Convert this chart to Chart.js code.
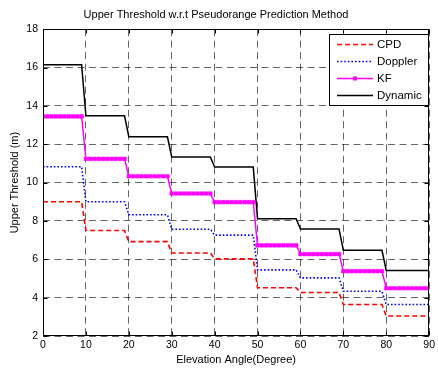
<!DOCTYPE html>
<html><head><meta charset="utf-8">
<script src="https://cdn.jsdelivr.net/npm/chart.js@4.4.1/dist/chart.umd.min.js"></script>
<style>html,body{margin:0;padding:0;background:#fff;}canvas{display:block;}</style>
</head><body>
<canvas id="c" width="438" height="370"></canvas>
<script>
const chartTitle = 'Upper Threshold w.r.t Pseudorange Prediction Method';
const xTitle = 'Elevation Angle(Degree)';
const yTitle = 'Upper Threshold (m)';
const seriesNames = ['CPD', 'Doppler', 'KF', 'Dynamic'];
const xTicks = [0, 10, 20, 30, 40, 50, 60, 70, 80, 90];
const yTicks = [2, 4, 6, 8, 10, 12, 14, 16, 18];

const elevationDeg = Array.from({length: 91}, (_, i) => i);

const cpd = [
  9.00, 9.00, 9.00, 9.00, 9.00, 9.00, 9.00, 9.00, 9.00, 9.00,
  7.50, 7.50, 7.50, 7.50, 7.50, 7.50, 7.50, 7.50, 7.50, 7.50,
  6.92, 6.92, 6.92, 6.92, 6.92, 6.92, 6.92, 6.92, 6.92, 6.92,
  6.33, 6.33, 6.33, 6.33, 6.33, 6.33, 6.33, 6.33, 6.33, 6.33,
  6.02, 6.02, 6.02, 6.02, 6.02, 6.02, 6.02, 6.02, 6.02, 6.02,
  4.52, 4.52, 4.52, 4.52, 4.52, 4.52, 4.52, 4.52, 4.52, 4.52,
  4.27, 4.27, 4.27, 4.27, 4.27, 4.27, 4.27, 4.27, 4.27, 4.27,
  3.64, 3.64, 3.64, 3.64, 3.64, 3.64, 3.64, 3.64, 3.64, 3.64,
  3.04, 3.04, 3.04, 3.04, 3.04, 3.04, 3.04, 3.04, 3.04, 3.04, 3.04
];
const doppler = [
  10.83, 10.83, 10.83, 10.83, 10.83, 10.83, 10.83, 10.83, 10.83, 10.83,
  9.00, 9.00, 9.00, 9.00, 9.00, 9.00, 9.00, 9.00, 9.00, 9.00,
  8.32, 8.32, 8.32, 8.32, 8.32, 8.32, 8.32, 8.32, 8.32, 8.32,
  7.57, 7.57, 7.57, 7.57, 7.57, 7.57, 7.57, 7.57, 7.57, 7.57,
  7.26, 7.26, 7.26, 7.26, 7.26, 7.26, 7.26, 7.26, 7.26, 7.26,
  5.45, 5.45, 5.45, 5.45, 5.45, 5.45, 5.45, 5.45, 5.45, 5.45,
  5.03, 5.03, 5.03, 5.03, 5.03, 5.03, 5.03, 5.03, 5.03, 5.03,
  4.33, 4.33, 4.33, 4.33, 4.33, 4.33, 4.33, 4.33, 4.33, 4.33,
  3.64, 3.64, 3.64, 3.64, 3.64, 3.64, 3.64, 3.64, 3.64, 3.64, 3.64
];
const kf = [
  13.45, 13.45, 13.45, 13.45, 13.45, 13.45, 13.45, 13.45, 13.45, 13.45,
  11.24, 11.24, 11.24, 11.24, 11.24, 11.24, 11.24, 11.24, 11.24, 11.24,
  10.33, 10.33, 10.33, 10.33, 10.33, 10.33, 10.33, 10.33, 10.33, 10.33,
  9.43, 9.43, 9.43, 9.43, 9.43, 9.43, 9.43, 9.43, 9.43, 9.43,
  8.98, 8.98, 8.98, 8.98, 8.98, 8.98, 8.98, 8.98, 8.98, 8.98,
  6.73, 6.73, 6.73, 6.73, 6.73, 6.73, 6.73, 6.73, 6.73, 6.73,
  6.27, 6.27, 6.27, 6.27, 6.27, 6.27, 6.27, 6.27, 6.27, 6.27,
  5.38, 5.38, 5.38, 5.38, 5.38, 5.38, 5.38, 5.38, 5.38, 5.38,
  4.49, 4.49, 4.49, 4.49, 4.49, 4.49, 4.49, 4.49, 4.49, 4.49, 4.49
];
const dynamic = [
  16.15, 16.15, 16.15, 16.15, 16.15, 16.15, 16.15, 16.15, 16.15, 16.15,
  13.48, 13.48, 13.48, 13.48, 13.48, 13.48, 13.48, 13.48, 13.48, 13.48,
  12.39, 12.39, 12.39, 12.39, 12.39, 12.39, 12.39, 12.39, 12.39, 12.39,
  11.34, 11.34, 11.34, 11.34, 11.34, 11.34, 11.34, 11.34, 11.34, 11.34,
  10.81, 10.81, 10.81, 10.81, 10.81, 10.81, 10.81, 10.81, 10.81, 10.81,
  8.12, 8.12, 8.12, 8.12, 8.12, 8.12, 8.12, 8.12, 8.12, 8.12,
  7.58, 7.58, 7.58, 7.58, 7.58, 7.58, 7.58, 7.58, 7.58, 7.58,
  6.47, 6.47, 6.47, 6.47, 6.47, 6.47, 6.47, 6.47, 6.47, 6.47,
  5.42, 5.42, 5.42, 5.42, 5.42, 5.42, 5.42, 5.42, 5.42, 5.42, 5.42
];

const FONT = '"Liberation Sans", Arial, Helvetica, sans-serif';
const toPts = vals => elevationDeg.map((x, i) => ({x, y: vals[i]}));

const datasets = [
  {label: seriesNames[0], data: toPts(cpd), borderColor: '#ff0000', borderWidth: 1.6, borderDash: [5, 3], pointRadius: 0},
  {label: seriesNames[1], data: toPts(doppler), borderColor: '#0000ff', borderWidth: 1.6, borderDash: [1.6, 2], pointRadius: 0},
  {label: seriesNames[2], data: toPts(kf), borderColor: '#ff00ff', backgroundColor: '#ff00ff', borderWidth: 1.5, pointStyle: 'rect', pointRadius: 2.6, pointBorderWidth: 0.5},
  {label: seriesNames[3], data: toPts(dynamic), borderColor: '#000000', borderWidth: 1.5, pointRadius: 0}
];

const frame = {
  id: 'frame',
  afterDraw(chart) {
    const {ctx, chartArea: a, scales: {x, y}} = chart;
    ctx.save();
    ctx.setLineDash([]);
    ctx.strokeStyle = '#000';
    ctx.lineWidth = 1;
    const L = Math.round(a.left) + 0.5, R = Math.round(a.right) - 0.5;
    const T = Math.round(a.top) + 0.5, B = Math.round(a.bottom) - 0.5;
    ctx.beginPath();
    xTicks.forEach(v => {
      const px = Math.round(x.getPixelForValue(v)) + 0.5;
      ctx.moveTo(px, B); ctx.lineTo(px, B - 4);
      ctx.moveTo(px, T); ctx.lineTo(px, T + 4);
    });
    yTicks.forEach(v => {
      const py = Math.round(y.getPixelForValue(v)) + 0.5;
      ctx.moveTo(L, py); ctx.lineTo(L + 4, py);
      ctx.moveTo(R, py); ctx.lineTo(R - 4, py);
    });
    ctx.stroke();
    ctx.strokeRect(L, T, R - L, B - T);

    const bx = 329.5, by = 34.5, bw = 99, bh = 71;
    ctx.fillStyle = '#fff';
    ctx.fillRect(bx, by, bw, bh);
    ctx.strokeRect(bx, by, bw, bh);
    const rowY = [44, 61, 78, 95];
    ctx.font = '11.5px ' + FONT;
    ctx.textBaseline = 'middle';
    ctx.textAlign = 'left';
    chart.data.datasets.forEach((ds, i) => {
      const yy = rowY[i] + 0.5;
      ctx.save();
      ctx.strokeStyle = ds.borderColor;
      ctx.lineWidth = ds.borderWidth;
      ctx.setLineDash(ds.borderDash || []);
      ctx.beginPath();
      ctx.moveTo(337, yy); ctx.lineTo(373, yy);
      ctx.stroke();
      if (ds.pointRadius > 0) {
        ctx.fillStyle = ds.borderColor;
        ctx.fillRect(353, yy - 2, 4, 4);
      }
      ctx.restore();
      ctx.fillStyle = '#000';
      ctx.fillText(ds.label, 377, rowY[i] + 0.5);
    });
    ctx.restore();
  }
};

new Chart(document.getElementById('c'), {
  type: 'line',
  data: {datasets},
  plugins: [frame],
  options: {
    responsive: false,
    devicePixelRatio: 1,
    animation: false,
    layout: {padding: {left: 0, right: 6, top: 0, bottom: 0}},
    elements: {line: {tension: 0}},
    plugins: {
      legend: {display: false},
      tooltip: {enabled: false},
      title: {display: true, text: chartTitle, color: '#000', font: {family: FONT, size: 11, weight: 'normal'}, padding: {top: 8, bottom: 8}}
    },
    scales: {
      x: {
        type: 'linear', min: 0, max: 90,
        afterBuildTicks: s => { s.ticks = xTicks.map(v => ({value: v})); },
        afterFit: s => { s.height = 34; },
        ticks: {color: '#000', font: {family: FONT, size: 10.5}, padding: 3, maxRotation: 0},
        grid: {color: 'rgba(0,0,0,0.6)', lineWidth: 1, drawTicks: false},
        border: {display: false, dash: [7, 4.5]},
        title: {display: true, text: xTitle, color: '#000', font: {family: FONT, size: 11}, padding: {top: 2, bottom: 3}}
      },
      y: {
        type: 'linear', min: 2, max: 18,
        afterBuildTicks: s => { s.ticks = yTicks.map(v => ({value: v})); },
        afterFit: s => { s.width = 43; },
        ticks: {color: '#000', font: {family: FONT, size: 10.5}, padding: 5},
        grid: {color: 'rgba(0,0,0,0.6)', lineWidth: 1, drawTicks: false},
        border: {display: false, dash: [7, 4.5]},
        title: {display: true, text: yTitle, color: '#000', font: {family: FONT, size: 11}, padding: {top: 8, bottom: 0}}
      }
    }
  }
});
</script>
</body></html>
